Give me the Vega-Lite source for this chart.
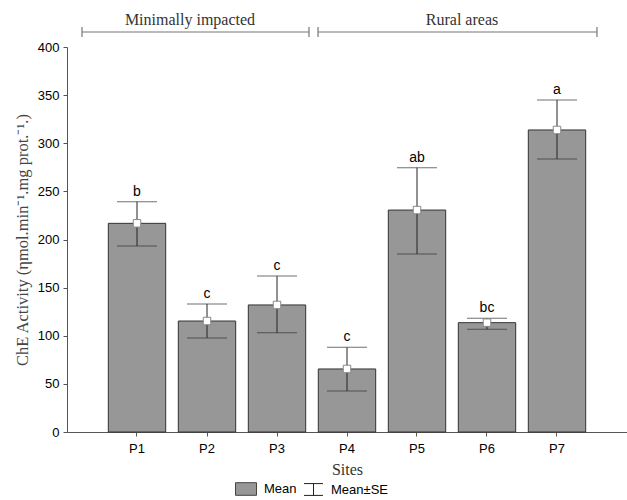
{
  "$schema": "https://vega.github.io/schema/vega-lite/v6.json",
  "width": 560,
  "height": 385,
  "autosize": {"type": "none"},
  "padding": {"left": 67, "top": 47, "right": 0, "bottom": 68},
  "background": "white",
  "config": {"view": {"stroke": null}, "font": "Liberation Sans"},
  "datasets": {
    "sites": [
      {"site": "P1", "mean": 216.8, "lower": 193.2, "upper": 239.3, "group": "b"},
      {"site": "P2", "mean": 115.3, "lower": 97.7, "upper": 133, "group": "c"},
      {"site": "P3", "mean": 132, "lower": 103, "upper": 162, "group": "c"},
      {"site": "P4", "mean": 65.5, "lower": 42.6, "upper": 88, "group": "c"},
      {"site": "P5", "mean": 230.6, "lower": 184.9, "upper": 274.6, "group": "ab"},
      {"site": "P6", "mean": 113.6, "lower": 106.7, "upper": 118.1, "group": "bc"},
      {"site": "P7", "mean": 313.8, "lower": 283.6, "upper": 345, "group": "a"}
    ],
    "areas": [
      {"area": "Minimally impacted", "start": 0.214, "end": 3.457, "mid": 1.757},
      {"area": "Rural areas", "start": 3.586, "end": 7.571, "mid": 5.643}
    ]
  },
  "resolve": {"scale": {"x": "independent"}},
  "layer": [
    {
      "data": {"name": "sites"},
      "encoding": {
        "x": {
          "field": "site",
          "type": "nominal",
          "sort": null,
          "scale": {"paddingInner": 0.18, "paddingOuter": 0.59},
          "axis": {
            "labelAngle": 0,
            "labelFont": "Liberation Sans",
            "labelFontSize": 13,
            "labelColor": "#000",
            "labelPadding": 6,
            "tickSize": 4,
            "tickColor": "#555",
            "domainColor": "#555",
            "title": "Sites",
            "titleFont": "Liberation Serif",
            "titleFontSize": 16,
            "titleFontWeight": "normal",
            "titleColor": "#333",
            "titlePadding": 6
          }
        },
        "y": {
          "type": "quantitative",
          "scale": {"domain": [0, 400], "nice": false},
          "axis": {
            "values": [0, 50, 100, 150, 200, 250, 300, 350, 400],
            "grid": false,
            "labelFont": "Liberation Sans",
            "labelFontSize": 13,
            "labelColor": "#000",
            "labelPadding": 4,
            "tickSize": 4,
            "tickColor": "#555",
            "domainColor": "#555",
            "title": "ChE Activity (ηmol.min⁻¹.mg prot.⁻¹.)",
            "titleFont": "Liberation Serif",
            "titleFontSize": 16.5,
            "titleFontWeight": "normal",
            "titleColor": "#444",
            "titlePadding": 7
          }
        }
      },
      "layer": [
        {
          "mark": {"type": "bar", "stroke": "#333", "strokeWidth": 1},
          "encoding": {
            "y": {"field": "mean"},
            "fill": {
              "datum": "Mean",
              "scale": {"domain": ["Mean"], "range": ["#979797"]},
              "legend": {
                "title": null,
                "orient": "none",
                "legendX": 168,
                "legendY": 431,
                "direction": "horizontal",
                "labelFont": "Liberation Sans",
                "labelFontSize": 13,
                "labelColor": "#000",
                "labelOffset": 7,
                "symbolType": "M-1,-0.6H1V0.6H-1Z",
                "symbolSize": 441,
                "symbolStrokeColor": "#444",
                "symbolStrokeWidth": 1
              }
            }
          }
        },
        {
          "mark": {"type": "rule", "strokeWidth": 1},
          "encoding": {
            "y": {"field": "lower"},
            "y2": {"field": "upper"},
            "stroke": {
              "datum": "Mean±SE",
              "scale": {"domain": ["Mean±SE"], "range": ["#222222"]},
              "legend": {
                "title": null,
                "orient": "none",
                "legendX": 240,
                "legendY": 436,
                "direction": "horizontal",
                "labelFont": "Liberation Sans",
                "labelFontSize": 13,
                "labelColor": "#000",
                "labelOffset": 11,
                "symbolType": "M-1.6,-1H1.6M0,-1V1M-1.6,1H1.6",
                "symbolSize": 140,
                "symbolFillColor": "transparent",
                "symbolStrokeWidth": 1
              }
            }
          }
        },
        {
          "mark": {"type": "tick", "orient": "horizontal", "size": 40, "thickness": 1, "color": "#333"},
          "encoding": {"y": {"field": "upper"}}
        },
        {
          "mark": {"type": "tick", "orient": "horizontal", "size": 40, "thickness": 1, "color": "#333"},
          "encoding": {"y": {"field": "lower"}}
        },
        {
          "mark": {"type": "point", "shape": "square", "size": 56, "filled": true, "fill": "white", "stroke": "#888", "strokeWidth": 1, "opacity": 1},
          "encoding": {"y": {"field": "mean"}}
        },
        {
          "mark": {"type": "text", "baseline": "bottom", "dy": -3, "font": "Liberation Sans", "fontSize": 14, "color": "#000"},
          "encoding": {"y": {"field": "upper"}, "text": {"field": "group"}}
        }
      ]
    },
    {
      "data": {"name": "areas"},
      "encoding": {
        "x": {"field": "start", "type": "quantitative", "scale": {"domain": [0, 8], "nice": false, "zero": false}, "axis": null}
      },
      "layer": [
        {
          "mark": {"type": "rule", "color": "#777", "strokeWidth": 1.2},
          "encoding": {"x2": {"field": "end"}, "y": {"datum": 415.6}}
        },
        {
          "mark": {"type": "rule", "color": "#777", "strokeWidth": 1.2},
          "encoding": {"y": {"datum": 410.4}, "y2": {"datum": 420.8}}
        },
        {
          "mark": {"type": "rule", "color": "#777", "strokeWidth": 1.2},
          "encoding": {"x": {"field": "end", "type": "quantitative"}, "y": {"datum": 410.4}, "y2": {"datum": 420.8}}
        },
        {
          "mark": {"type": "text", "baseline": "alphabetic", "font": "Liberation Serif", "fontSize": 16, "color": "#333"},
          "encoding": {"x": {"field": "mid", "type": "quantitative"}, "y": {"datum": 422.9}, "text": {"field": "area"}}
        }
      ]
    }
  ]
}
